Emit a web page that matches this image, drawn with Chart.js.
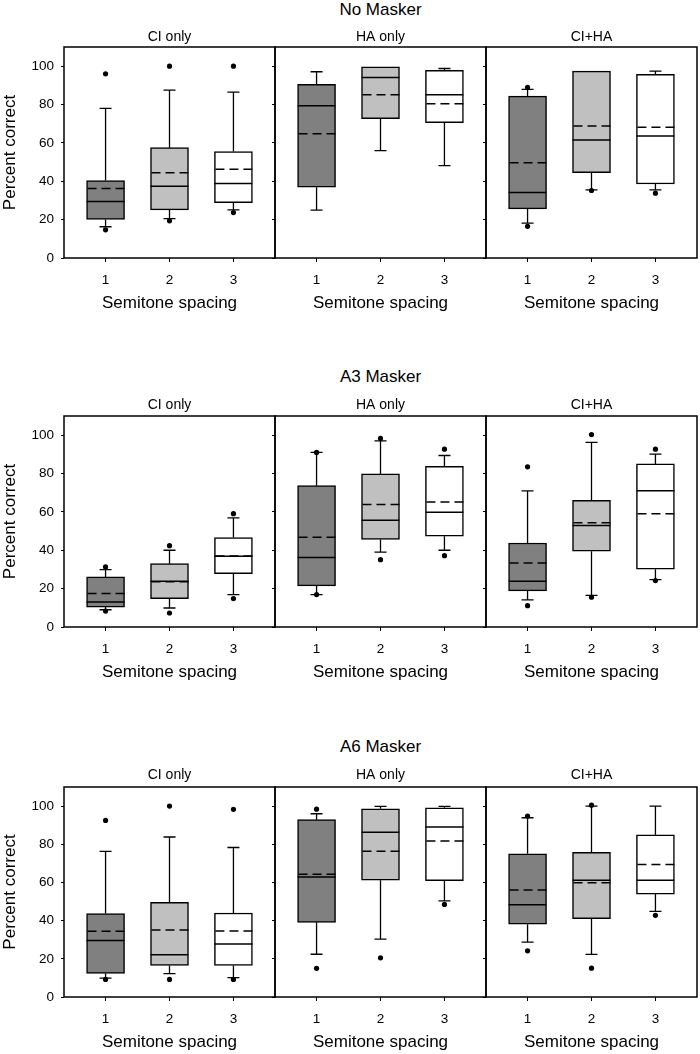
<!DOCTYPE html>
<html>
<head>
<meta charset="utf-8">
<script src="https://cdn.jsdelivr.net/npm/chart.js@4.4.1/dist/chart.umd.min.js"></script>
<style>
  body { margin: 0; background: #fff; width: 700px; height: 1054px; position: relative; overflow: hidden;
         font-family: "Liberation Sans", Arial, sans-serif; }
  .rowTitle { position: absolute; left: 64px; width: 633px; text-align: center; font-size: 17px;
              line-height: 20px; color: #000; }
  canvas { position: absolute; }
</style>
</head>
<body>
<script>
// ---- data ----
const spacing = [1, 2, 3];
const rowTitles = ['No Masker', 'A3 Masker', 'A6 Masker'];
const panelTitles = ['CI only', 'HA only', 'CI+HA'];
const yTicks = [0, 20, 40, 60, 80, 100];

// [row][panel][spacing]
const whiskerLow = [
  [[16.3, 20.5, 25.1], [25.0, 56.0, 48.2], [18.2, 35.5, 35.5]],
  [[9.0, 9.9, 16.9],   [16.9, 39.0, 40.0], [14.1, 16.5, 24.7]],
  [[9.9, 12.2, 10.1],  [22.4, 30.3, 50.4], [28.7, 22.3, 44.9]]
];
const q1 = [
  [[20.1, 25.1, 28.9], [36.9, 72.6, 70.5], [25.6, 44.5, 38.6]],
  [[10.4, 14.8, 27.8], [21.4, 45.6, 47.3], [18.8, 39.5, 30.1]],
  [[12.3, 16.5, 16.5], [39.1, 61.2, 60.9], [38.1, 41.0, 53.9]]
];
const median = [
  [[29.5, 37.4, 38.8], [79.4, 94.1, 85.1], [34.1, 61.5, 63.6]],
  [[13.0, 23.8, 36.9], [36.2, 55.7, 59.8], [23.8, 52.9, 71.0]],
  [[29.6, 22.1, 27.8], [62.8, 86.3, 89.0], [48.3, 61.2, 61.2]]
];
const mean = [
  [[36.2, 44.4, 46.3], [64.8, 85.1, 80.4], [49.6, 68.8, 68.1]],
  [[17.4, 23.6, 37.0], [46.8, 63.8, 65.2], [33.4, 54.3, 59.0]],
  [[34.4, 35.1, 34.6], [64.3, 76.3, 81.7], [56.0, 59.8, 69.4]]
];
const q3 = [
  [[40.4, 57.5, 55.5], [90.6, 99.7, 97.9], [84.4, 97.4, 95.8]],
  [[26.1, 33.0, 46.6], [73.7, 79.8, 83.7], [43.8, 66.1, 85.0]],
  [[43.7, 49.6, 44.0], [92.9, 98.6, 99.1], [75.0, 75.8, 84.9]]
];
const whiskerHigh = [
  [[78.0, 87.5, 86.5], [97.1, 99.7, 98.8], [87.9, 97.4, 97.4]],
  [[29.9, 40.0, 56.9], [91.0, 97.0, 89.4], [71.0, 96.3, 90.1]],
  [[76.3, 83.8, 78.3], [96.0, 99.8, 99.8], [93.9, 100, 100]]
];
const outliers = [
  [[[96.0, 14.7], [100, 19.4], [100, 23.7]], [[], [], []], [[88.9, 16.5], [35.2], [33.8]]],
  [[[31.3, 8.3], [42.4, 7.3], [59.1, 14.8]], [[91.0, 16.9], [98.3, 35.1], [92.7, 37.2]], [[83.5, 11.1], [100.3, 15.5], [92.7, 24.2]]],
  [[[92.5, 9.2], [100, 9.2], [98.3, 9.2]], [[98.4, 15.0], [20.5], [48.5]], [[94.8, 24.2], [100.5, 15.1], [42.8]]]
];

// ---- layout ----
const boxFill = ['#808080', '#c0c0c0', '#ffffff'];
const frameTop = [47, 416, 787];
const frameBottom = [258, 627, 997];
const subtitleY = [37, 405, 775];
const rowTitleY = [10, 377, 747];
const panelLeft = [64, 275, 486];
const panelRight = [275, 486, 697];
const X_AXIS_H = 56;

Chart.defaults.font.family = '"Liberation Sans", Arial, sans-serif';
Chart.defaults.color = '#000';

function boxExtras(r, p) {
  return {
    id: 'boxExtras',
    beforeDatasetsDraw(chart) {
      const ctx = chart.ctx, xs = chart.scales.x, ys = chart.scales.y;
      ctx.save();
      ctx.strokeStyle = '#000';
      ctx.lineWidth = 1.3;
      spacing.forEach((s, i) => {
        const x = xs.getPixelForValue(s);
        const pairs = [[q3[r][p][i], whiskerHigh[r][p][i]], [q1[r][p][i], whiskerLow[r][p][i]]];
        pairs.forEach(([from, to]) => {
          if (Math.abs(to - from) < 0.2) return;
          const y0 = ys.getPixelForValue(from), y1 = ys.getPixelForValue(to);
          ctx.beginPath();
          ctx.moveTo(x, y0); ctx.lineTo(x, y1);
          ctx.moveTo(x - 6, y1); ctx.lineTo(x + 6, y1);
          ctx.stroke();
        });
      });
      ctx.restore();
    },
    afterDatasetsDraw(chart) {
      const ctx = chart.ctx, xs = chart.scales.x, ys = chart.scales.y, a = chart.chartArea;
      ctx.save();
      ctx.strokeStyle = '#000';
      spacing.forEach((s, i) => {
        const x = xs.getPixelForValue(s);
        const ym = ys.getPixelForValue(median[r][p][i]);
        ctx.setLineDash([]);
        ctx.lineWidth = 1.5;
        ctx.beginPath(); ctx.moveTo(x - 19, ym); ctx.lineTo(x + 19, ym); ctx.stroke();
        const ya = ys.getPixelForValue(mean[r][p][i]);
        ctx.setLineDash([9, 5]);
        ctx.beginPath(); ctx.moveTo(x - 18, ya); ctx.lineTo(x + 19, ya); ctx.stroke();
      });
      ctx.setLineDash([]);
      ctx.lineWidth = 1.5;
      ctx.strokeRect(a.left, a.top, a.right - a.left, a.bottom - a.top);
      ctx.restore();
    }
  };
}

rowTitles.forEach((title, r) => {
  const d = document.createElement('div');
  d.className = 'rowTitle';
  d.style.top = (rowTitleY[r] - 10) + 'px';
  d.textContent = title;
  document.body.appendChild(d);

  panelTitles.forEach((pt, p) => {
    const canvasLeft = p === 0 ? 0 : panelLeft[p] - 4;
    const yAxisW = p === 0 ? 64 : 4;
    const canvasW = panelRight[p] + 2 - canvasLeft;
    const canvasTop = Math.floor(subtitleY[r] - 8.4);
    const padTop = subtitleY[r] - 8.4 - canvasTop;
    const padBottom = frameTop[r] - subtitleY[r] - 8.4;
    const canvasH = frameBottom[r] + X_AXIS_H - canvasTop;

    const cv = document.createElement('canvas');
    cv.width = canvasW; cv.height = canvasH;
    cv.style.left = canvasLeft + 'px'; cv.style.top = canvasTop + 'px';
    cv.style.width = canvasW + 'px'; cv.style.height = canvasH + 'px';
    document.body.appendChild(cv);

    const pts = [];
    spacing.forEach((s, i) => outliers[r][p][i].forEach(v => pts.push({ x: s, y: v })));

    new Chart(cv.getContext('2d'), {
      type: 'bar',
      data: {
        datasets: [
          {
            type: 'scatter',
            data: pts,
            pointRadius: 2.6,
            pointBackgroundColor: '#000',
            pointBorderWidth: 0
          },
          {
            type: 'bar',
            data: spacing.map((s, i) => ({ x: s, y: [q1[r][p][i], q3[r][p][i]] })),
            backgroundColor: boxFill,
            borderColor: '#000',
            borderWidth: 1.5,
            borderSkipped: false,
            barThickness: 38
          }
        ]
      },
      options: {
        responsive: false,
        animation: false,
        devicePixelRatio: 1,
        layout: { autoPadding: false, padding: { left: 0, right: 2, top: 0, bottom: 0 } },
        plugins: {
          legend: { display: false },
          tooltip: { enabled: false },
          title: {
            display: true, text: pt, fullSize: false,
            font: { size: 14, weight: 'normal' }, color: '#000',
            padding: { top: padTop, bottom: padBottom }
          }
        },
        scales: {
          x: {
            type: 'linear', min: 0.35, max: 3.65, offset: false,
            afterBuildTicks: s => { s.ticks = spacing.map(v => ({ value: v })); },
            afterFit: s => { s.height = X_AXIS_H; },
            ticks: { font: { size: 13.5 }, color: '#000', padding: 10, callback: v => String(v) },
            grid: { display: true, drawOnChartArea: false, drawTicks: true, tickLength: 4, color: '#000', offset: false },
            border: { display: false },
            title: { display: true, text: 'Semitone spacing', font: { size: 17 }, color: '#000', padding: { top: 0, bottom: 0.8 } }
          },
          y: {
            type: 'linear', min: 0, max: 110,
            afterBuildTicks: s => { s.ticks = yTicks.map(v => ({ value: v })); },
            afterFit: s => { s.width = yAxisW; },
            ticks: { font: { size: 13.5 }, color: '#000', padding: 7, callback: v => (p === 0 ? String(v) : '') },
            grid: { display: true, drawOnChartArea: false, drawTicks: true, tickLength: 3, color: '#000' },
            border: { display: false },
            title: { display: p === 0, text: 'Percent correct', font: { size: 17 }, color: '#000', padding: { top: 0, bottom: 0 } }
          }
        }
      },
      plugins: [boxExtras(r, p)]
    });
  });
});
</script>
</body>
</html>
